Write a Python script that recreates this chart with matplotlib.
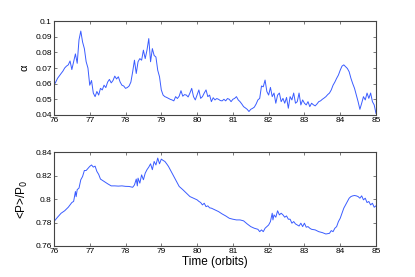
import matplotlib
matplotlib.use('Agg')
import matplotlib.pyplot as plt

# alpha vs time (top panel)
t_a = [76.0, 76.05, 76.1, 76.15, 76.2, 76.25, 76.3, 76.35, 76.4, 76.45, 76.5, 76.55,
       76.6, 76.65, 76.7, 76.75, 76.8, 76.85, 76.9, 76.95, 77.0, 77.05, 77.1, 77.15,
       77.2, 77.25, 77.3, 77.35, 77.4, 77.45, 77.5, 77.55, 77.6, 77.65, 77.7, 77.75,
       77.8, 77.85, 77.9, 77.95, 78.0, 78.05, 78.1, 78.15, 78.2, 78.25, 78.3, 78.35,
       78.4, 78.45, 78.5, 78.55, 78.6, 78.65, 78.7, 78.75, 78.8, 78.85, 78.9, 78.95,
       79.0, 79.05, 79.1, 79.15, 79.2, 79.25, 79.3, 79.35, 79.4, 79.45, 79.5, 79.55,
       79.6, 79.65, 79.7, 79.75, 79.8, 79.85, 79.9, 79.95, 80.0, 80.05, 80.1, 80.15,
       80.2, 80.25, 80.3, 80.35, 80.4, 80.45, 80.5, 80.55, 80.6, 80.65, 80.7, 80.75,
       80.8, 80.85, 80.9, 80.95, 81.0, 81.05, 81.1, 81.15, 81.2, 81.25, 81.3, 81.35,
       81.4, 81.45, 81.5, 81.55, 81.6, 81.65, 81.7, 81.75, 81.8, 81.85, 81.9, 81.95,
       82.0, 82.05, 82.1, 82.15, 82.2, 82.25, 82.3, 82.35, 82.4, 82.45, 82.5, 82.55,
       82.6, 82.65, 82.7, 82.75, 82.8, 82.85, 82.9, 82.95, 83.0, 83.05, 83.1, 83.15,
       83.2, 83.25, 83.3, 83.35, 83.4, 83.45, 83.5, 83.55, 83.6, 83.65, 83.7, 83.75,
       83.8, 83.85, 83.9, 83.95, 84.0, 84.05, 84.1, 84.15, 84.2, 84.25, 84.3, 84.35,
       84.4, 84.45, 84.5, 84.55, 84.6, 84.65, 84.7, 84.75, 84.8, 84.85, 84.9, 84.95,
       85.0]
alpha = [0.059, 0.061, 0.0634, 0.065, 0.0665, 0.068, 0.070, 0.0712, 0.072, 0.0745, 0.069, 0.074,
         0.079, 0.073, 0.088, 0.0936, 0.0866, 0.0824, 0.074, 0.070, 0.059, 0.062, 0.054, 0.0517,
         0.055, 0.0527, 0.057, 0.056, 0.059, 0.0575, 0.061, 0.0627, 0.0605, 0.062, 0.0648, 0.063,
         0.0644, 0.061, 0.059, 0.0585, 0.057, 0.0575, 0.0585, 0.061, 0.0676, 0.075, 0.0665, 0.074,
         0.076, 0.075, 0.0814, 0.076, 0.0814, 0.0888, 0.074, 0.0824, 0.078, 0.077, 0.0686, 0.0644,
         0.056, 0.0527, 0.0517, 0.0512, 0.0506, 0.050, 0.0496, 0.049, 0.0517, 0.0505, 0.052, 0.0555,
         0.052, 0.053, 0.0527, 0.0515, 0.054, 0.057, 0.0517, 0.0496, 0.0527, 0.056, 0.0506, 0.0517,
         0.054, 0.056, 0.0517, 0.0527, 0.0485, 0.051, 0.0496, 0.0505, 0.050, 0.0492, 0.049, 0.050,
         0.049, 0.0505, 0.050, 0.0485, 0.050, 0.0506, 0.0517, 0.0496, 0.0485, 0.047, 0.0453, 0.0445,
         0.0436, 0.0422, 0.0436, 0.0442, 0.045, 0.047, 0.0496, 0.0506, 0.0585, 0.058, 0.0623, 0.055,
         0.0527, 0.0576, 0.0517, 0.054, 0.0475, 0.0527, 0.054, 0.0485, 0.0506, 0.0475, 0.0512, 0.0443,
         0.0517, 0.0496, 0.054, 0.0475, 0.0485, 0.054, 0.0464, 0.0496, 0.0475, 0.0464, 0.0485, 0.0453,
         0.0475, 0.0465, 0.0458, 0.047, 0.0485, 0.049, 0.050, 0.0508, 0.0517, 0.053, 0.054, 0.056,
         0.059, 0.061, 0.0634, 0.0655, 0.0686, 0.0712, 0.072, 0.0708, 0.0697, 0.0676, 0.0634, 0.060,
         0.057, 0.0527, 0.0485, 0.0436, 0.0475, 0.0517, 0.0496, 0.054, 0.0506, 0.054, 0.0485, 0.0464,
         0.041]

# <P>/P0 vs time (bottom panel)
t_p = [76.0, 76.1, 76.2, 76.3, 76.4, 76.5, 76.55, 76.6, 76.62, 76.65, 76.7, 76.75,
       76.8, 76.85, 76.9, 76.95, 77.0, 77.05, 77.1, 77.15, 77.2, 77.25, 77.3, 77.4,
       77.5, 77.6, 77.7, 77.8, 77.9, 78.0, 78.1, 78.2, 78.25, 78.3, 78.33, 78.35,
       78.4, 78.45, 78.5, 78.55, 78.6, 78.65, 78.7, 78.75, 78.8, 78.85, 78.9, 78.95,
       79.0, 79.05, 79.1, 79.15, 79.2, 79.3, 79.4, 79.5, 79.6, 79.7, 79.8, 79.9,
       80.0, 80.05, 80.1, 80.15, 80.2, 80.25, 80.3, 80.35, 80.4, 80.5, 80.6, 80.7,
       80.8, 80.9, 81.0, 81.1, 81.2, 81.3, 81.4, 81.5, 81.6, 81.7, 81.75, 81.8,
       81.85, 81.9, 81.95, 82.0, 82.05, 82.1, 82.12, 82.15, 82.2, 82.25, 82.3, 82.35,
       82.4, 82.45, 82.5, 82.55, 82.6, 82.65, 82.7, 82.75, 82.8, 82.85, 82.9, 82.95,
       83.0, 83.05, 83.1, 83.15, 83.2, 83.3, 83.4, 83.5, 83.6, 83.7, 83.75, 83.8,
       83.85, 83.9, 83.95, 84.0, 84.05, 84.1, 84.15, 84.2, 84.25, 84.3, 84.35, 84.4,
       84.45, 84.5, 84.55, 84.6, 84.65, 84.7, 84.75, 84.8, 84.85, 84.9, 84.95, 85.0]
pres = [0.7808, 0.7845, 0.7879, 0.790, 0.793, 0.797, 0.798, 0.8064, 0.802, 0.808, 0.8093, 0.8164,
        0.8192, 0.8243, 0.8243, 0.826, 0.8278, 0.829, 0.8272, 0.828, 0.8235, 0.821, 0.817, 0.815,
        0.813, 0.8112, 0.8112, 0.811, 0.8112, 0.8108, 0.8107, 0.810, 0.812, 0.817, 0.8112, 0.8178,
        0.8135, 0.8206, 0.8164, 0.822, 0.825, 0.8272, 0.830, 0.825, 0.832, 0.829, 0.8349, 0.830,
        0.834, 0.8329, 0.832, 0.830, 0.8278, 0.822, 0.8164, 0.8107, 0.808, 0.805, 0.8021, 0.8007,
        0.7993, 0.798, 0.797, 0.795, 0.7964, 0.7935, 0.7942, 0.7925, 0.7922, 0.7907, 0.7893, 0.7873,
        0.7856, 0.7836, 0.7828, 0.7822, 0.7822, 0.7814, 0.7788, 0.7765, 0.7751, 0.7742, 0.7722, 0.7737,
        0.7722, 0.7751, 0.7765, 0.7779, 0.7808, 0.7879, 0.7822, 0.7865, 0.7845, 0.790, 0.7865, 0.7879,
        0.7865, 0.7845, 0.7856, 0.7828, 0.7828, 0.7794, 0.7808, 0.7788, 0.7779, 0.777, 0.7794, 0.7765,
        0.7794, 0.776, 0.7765, 0.7751, 0.7742, 0.7737, 0.7722, 0.7714, 0.7702, 0.7708, 0.7731, 0.7722,
        0.7751, 0.7765, 0.7808, 0.7836, 0.7879, 0.7922, 0.795, 0.7979, 0.8007, 0.8021, 0.8027, 0.803,
        0.8027, 0.8021, 0.8007, 0.8027, 0.7993, 0.8007, 0.797, 0.7979, 0.795, 0.7964, 0.793, 0.7942]

xticks = [76, 77, 78, 79, 80, 81, 82, 83, 84, 85]
yticks_a = [0.04, 0.05, 0.06, 0.07, 0.08, 0.09, 0.1]
yticks_p = [0.76, 0.78, 0.8, 0.82, 0.84]

plt.rcParams['font.family'] = ['Liberation Sans', 'DejaVu Sans']
fig = plt.figure(figsize=(4.15, 2.77), dpi=100)
ax1 = fig.add_axes([0.130, 0.585, 0.776, 0.339])
ax2 = fig.add_axes([0.130, 0.112, 0.776, 0.339])

ax1.plot(t_a, alpha, color='#3a5cff', lw=0.7)
ax1.set_xlim(76, 85)
ax1.set_ylim(0.04, 0.1)
ax1.set_yticks(yticks_a)
ax1.set_yticklabels(['0.04', '0.05', '0.06', '0.07', '0.08', '0.09', '0.1'])
ax1.set_ylabel('α', fontsize=8)

ax2.plot(t_p, pres, color='#3a5cff', lw=0.7)
ax2.set_xlim(76, 85)
ax2.set_ylim(0.76, 0.84)
ax2.set_yticks(yticks_p)
ax2.set_yticklabels(['0.76', '0.78', '0.8', '0.82', '0.84'])
ax2.set_ylabel('<P>/P$_0$', fontsize=8.5)
ax2.set_xlabel('Time (orbits)', fontsize=8.5, labelpad=1)

for ax in (ax1, ax2):
    ax.set_xticks(xticks)
    ax.tick_params(direction='in', top=True, right=True, labelsize=6,
                   length=2.5, width=0.5, pad=1.5, color='#444444')
    for s in ax.spines.values():
        s.set_linewidth(0.8)
        s.set_color('#444444')

fig.savefig('out.png', dpi=100)
